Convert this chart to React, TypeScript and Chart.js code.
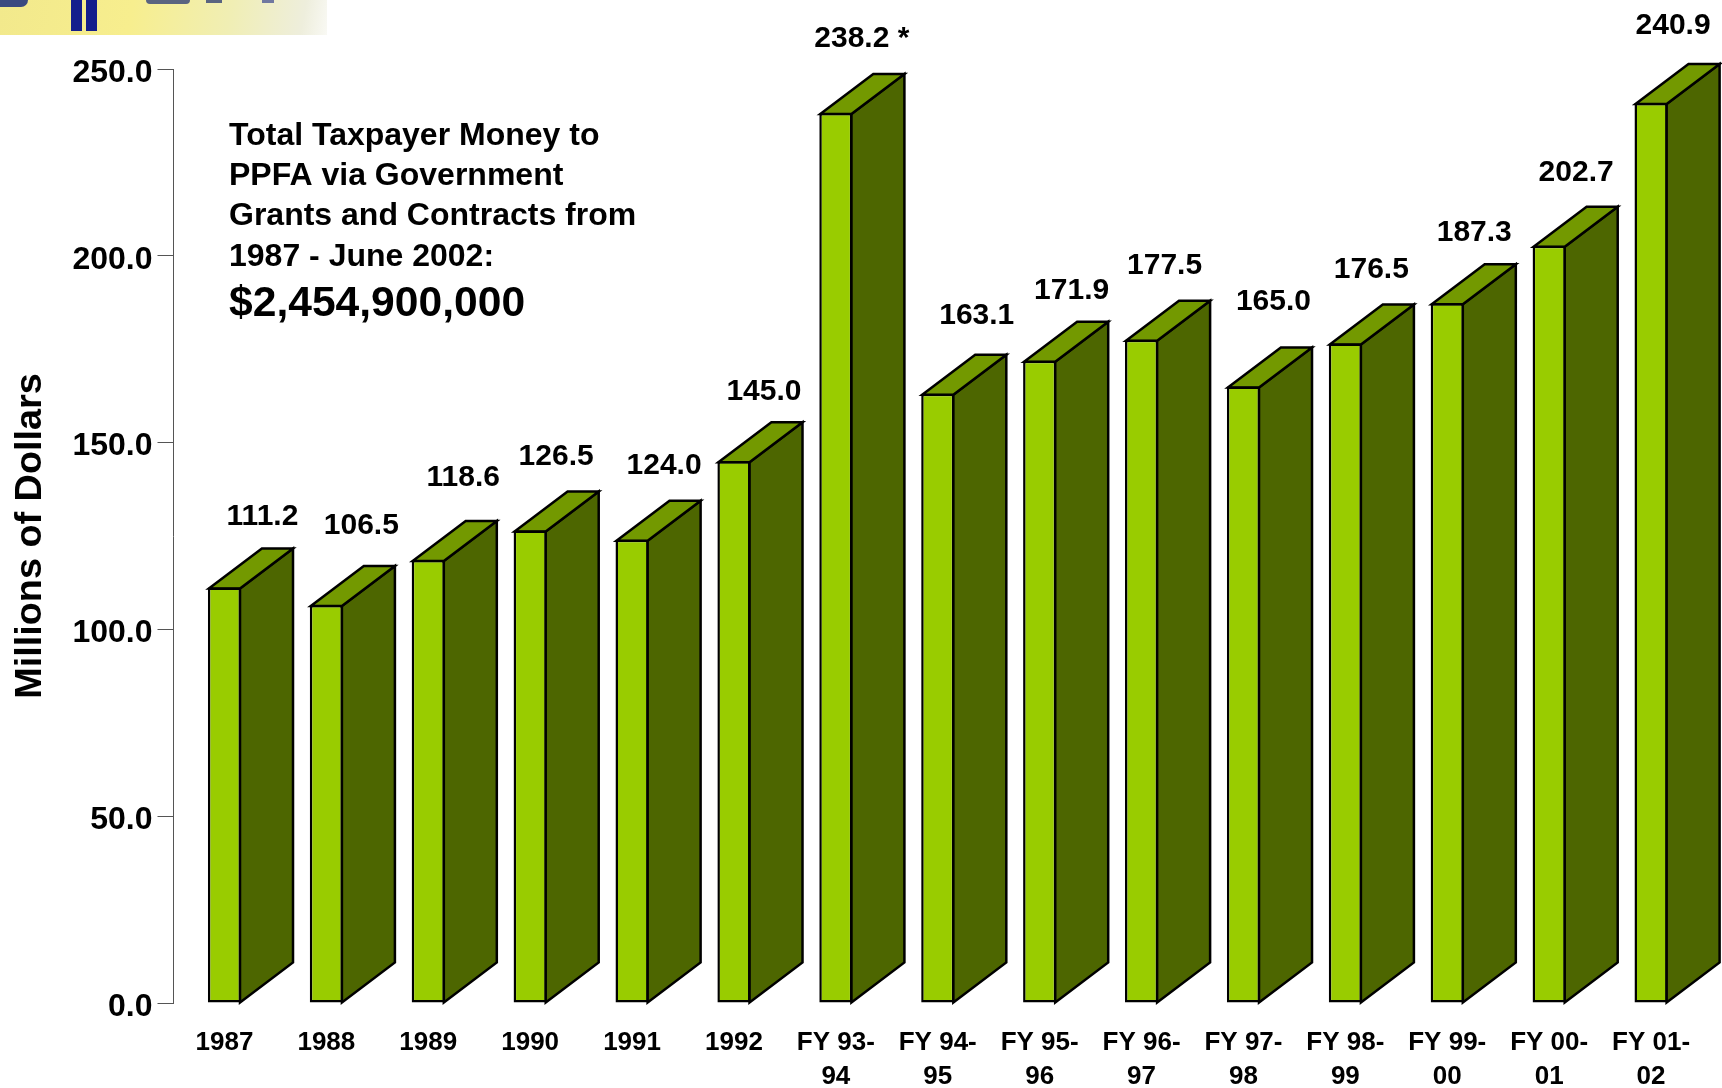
import React, { useEffect, useRef } from "react";
import { Chart, registerables } from "chart.js";

Chart.register(...registerables);

const categories: (string | string[])[] = [
  "1987", "1988", "1989", "1990", "1991", "1992",
  ["FY 93-", "94"], ["FY 94-", "95"], ["FY 95-", "96"], ["FY 96-", "97"],
  ["FY 97-", "98"], ["FY 98-", "99"], ["FY 99-", "00"], ["FY 00-", "01"], ["FY 01-", "02"],
];
const funding = [111.2, 106.5, 118.6, 126.5, 124.0, 145.0, 238.2, 163.1, 171.9, 177.5, 165.0, 176.5, 187.3, 202.7, 240.9];
const valueLabels = ["111.2", "106.5", "118.6", "126.5", "124.0", "145.0", "238.2 *", "163.1", "171.9", "177.5", "165.0", "176.5", "187.3", "202.7", "240.9"];
const noteLines = ["Total Taxpayer Money to", "PPFA via Government", "Grants and Contracts from", "1987 - June 2002:"];
const noteTotal = "$2,454,900,000";
const axisTitle = "Millions of Dollars";

const labelShiftX = [38, 35, 35, 26, 32, 30, 26, 39, 32, 23, 30, 26, 27, 27, 22];
const labelShiftY = [71, 79, 82, 74, 74, 70, 74, 78, 70, 74, 85, 74, 71, 73, 77];

const FONT = '"Liberation Sans", Arial, sans-serif';
const DEPTH_X = 53;
const DEPTH_Y = 40;
const EDGE = 2.5;

const box3d = {
  id: "box3d",
  beforeDatasetsDraw(chart: any) {
    const { ctx } = chart;
    const els = chart.getDatasetMeta(0).data;
    ctx.save();
    ctx.lineWidth = EDGE;
    ctx.strokeStyle = "#000";
    ctx.lineJoin = "miter";
    els.forEach((el: any) => {
      const left = el.x - el.width / 2 + 1;
      const right = el.x + el.width / 2 - 1;
      const top = el.y + 1;
      const base = el.base;
      ctx.beginPath();
      ctx.moveTo(right, top);
      ctx.lineTo(right + DEPTH_X, top - DEPTH_Y);
      ctx.lineTo(right + DEPTH_X, base - DEPTH_Y);
      ctx.lineTo(right, base);
      ctx.closePath();
      ctx.fillStyle = "#4D6600";
      ctx.fill();
      ctx.stroke();
      ctx.beginPath();
      ctx.moveTo(left, top);
      ctx.lineTo(left + DEPTH_X, top - DEPTH_Y);
      ctx.lineTo(right + DEPTH_X, top - DEPTH_Y);
      ctx.lineTo(right, top);
      ctx.closePath();
      ctx.fillStyle = "#739900";
      ctx.fill();
      ctx.stroke();
    });
    ctx.restore();
  },
  afterDatasetsDraw(chart: any) {
    const { ctx } = chart;
    const els = chart.getDatasetMeta(0).data;
    ctx.save();
    ctx.fillStyle = "#000";
    ctx.textBaseline = "middle";
    ctx.textAlign = "center";
    ctx.font = `bold 30px ${FONT}`;
    els.forEach((el: any, i: number) => {
      ctx.fillText(valueLabels[i], el.x + labelShiftX[i], el.y - labelShiftY[i]);
    });
    ctx.textAlign = "left";
    ctx.font = `bold 32px ${FONT}`;
    noteLines.forEach((line, i) => ctx.fillText(line, 229, 136 + i * 40.3));
    ctx.font = `bold 42.6px ${FONT}`;
    ctx.fillText(noteTotal, 229, 304);
    ctx.restore();
  },
};

function LogoStrip() {
  const bar = (left: number, width: number, height: number, color = "#141E8C", radius = "0") => (
    <div style={{ position: "absolute", left, top: 0, width, height, background: color, borderRadius: radius }} />
  );
  return (
    <div
      style={{
        position: "absolute", left: 0, top: 0, width: 327, height: 35, overflow: "hidden",
        background: "linear-gradient(100deg, #F2E98C 0%, #F7EE8E 40%, #F0EEB4 70%, #EEEEDC 92%, #F9F9F4 100%)",
      }}
    >
      {bar(0, 28, 7, "#3A4A80", "0 0 14px 0")}
      {bar(71, 11, 31)}
      {bar(86, 11, 31)}
      {bar(146, 44, 4, "#5A6480", "0 0 20px 20px")}
      {bar(206, 16, 3, "#5A6480")}
      {bar(262, 12, 3, "#7078A0")}
    </div>
  );
}

export default function App() {
  const ref = useRef<HTMLCanvasElement>(null);
  useEffect(() => {
    if (!ref.current) return;
    const chart = new Chart(ref.current, {
      type: "bar",
      data: {
        labels: categories as any,
        datasets: [
          {
            data: funding,
            backgroundColor: "#99CC00",
            borderColor: "#000",
            borderWidth: EDGE,
            borderSkipped: false,
            categoryPercentage: 1,
            barPercentage: 0.325,
          },
        ],
      },
      options: {
        responsive: false,
        animation: false,
        layout: { padding: { left: 0, top: 69, right: 20, bottom: 0 } },
        plugins: { legend: { display: false }, tooltip: { enabled: false }, title: { display: false } },
        scales: {
          x: {
            grid: { display: false },
            border: { display: false },
            ticks: {
              color: "#000",
              font: { family: FONT, size: 26, weight: "bold", lineHeight: 1.3 },
              maxRotation: 0,
              autoSkip: false,
              padding: 15,
            },
            afterFit(scale: any) { scale.height = 85; },
          },
          y: {
            min: 0,
            max: 250,
            border: { display: true, color: "#555", width: 1 },
            grid: { drawOnChartArea: false, drawTicks: true, tickLength: 16, tickColor: "#555", lineWidth: 1 },
            ticks: {
              stepSize: 50,
              color: "#000",
              padding: 5,
              font: { family: FONT, size: 32, weight: "bold" },
              callback: (v: any) => Number(v).toFixed(1),
            },
            title: {
              display: true,
              text: axisTitle,
              color: "#000",
              font: { family: FONT, size: 37.8, weight: "bold" },
              padding: { top: 8, bottom: 0 },
            },
            afterFit(scale: any) { scale.width = 173.5; },
            afterUpdate(scale: any) {
              const original = scale._computeLabelItems.bind(scale);
              scale._computeLabelItems = (area: any) =>
                original(area).map((item: any) => ({
                  ...item,
                  options: {
                    ...item.options,
                    translation: [item.options.translation[0], item.options.translation[1] + 2],
                  },
                }));
            },
          },
        },
      } as any,
      plugins: [box3d],
    });
    return () => chart.destroy();
  }, []);
  return (
    <div style={{ position: "absolute", left: 0, top: 0, width: 1722, height: 1088, overflow: "hidden", background: "#fff" }}>
      <canvas ref={ref} width={1722} height={1088} style={{ display: "block" }} />
      <LogoStrip />
    </div>
  );
}
